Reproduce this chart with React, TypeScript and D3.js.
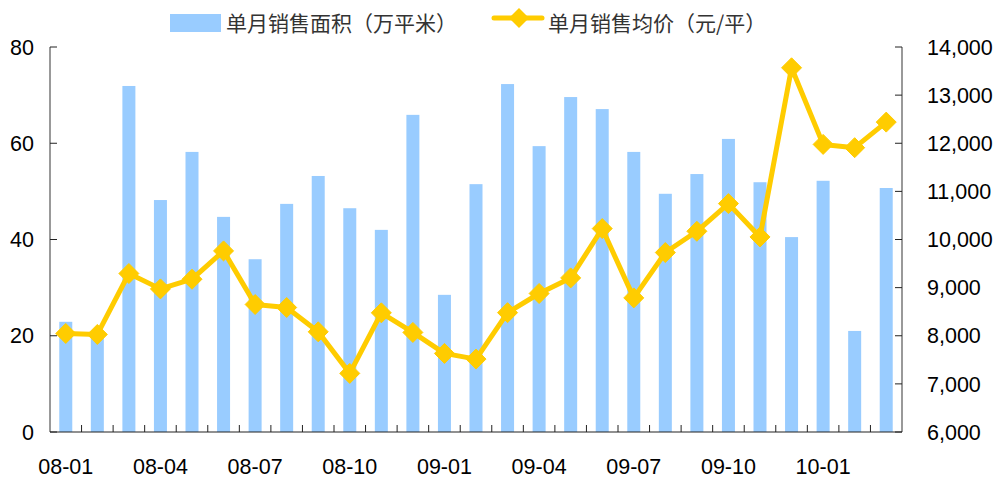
import React from "react";
import * as d3 from "d3";

const categories = [
  "08-01","08-02","08-03","08-04","08-05","08-06","08-07","08-08","08-09","08-10","08-11","08-12",
  "09-01","09-02","09-03","09-04","09-05","09-06","09-07","09-08","09-09","09-10","09-11","09-12",
  "10-01","10-02","10-03",
];
const areaValues = [
  22.9, 21.0, 71.9, 48.2, 58.2, 44.7, 35.9, 47.4, 53.2, 46.5, 42.0, 65.9,
  28.5, 51.5, 72.3, 59.4, 69.6, 67.1, 58.2, 49.5, 53.6, 60.9, 51.9, 40.5,
  52.2, 21.0, 50.7,
];
const priceValues = [
  8048, 8027, 9293, 8974, 9175, 9763, 8650, 8587, 8082, 7218, 8476, 8069,
  7633, 7515, 8480, 8878, 9202, 10227, 8787, 9729, 10171, 10746, 10053, 13568,
  11976, 11908, 12439,
];
const leftTicks = [0, 20, 40, 60, 80];
const rightTicks = [6000, 7000, 8000, 9000, 10000, 11000, 12000, 13000, 14000];
const xLabelIdx = [0, 3, 6, 9, 12, 15, 18, 21, 24];
const seriesNames = ["单月销售面积（万平米）", "单月销售均价（元/平）"];

const W = 1001, H = 480;
const L = 50, R = 902, T = 47, B = 432;
const BAR = "#99CCFF", LINE = "#FFCC00";
const NUM_FONT = "'Liberation Sans', Arial, sans-serif";
const CJK_FONT = "'Noto Sans CJK SC', sans-serif";

function diamond(cx: number, cy: number, r: number) {
  return `M${cx},${cy - r}L${cx + r},${cy}L${cx},${cy + r}L${cx - r},${cy}Z`;
}

export default function App() {
  const x = d3.scaleBand<string>().domain(categories).range([L, R]).paddingInner(0).paddingOuter(0);
  const yL = d3.scaleLinear().domain([0, 80]).range([B, T]);
  const yR = d3.scaleLinear().domain([6000, 14000]).range([B, T]);
  const bw = 13;
  const cx = (c: string) => (x(c) as number) + x.bandwidth() / 2;
  const line = d3.line<number>().x((_, i) => cx(categories[i])).y((v) => yR(v));

  return (
    <svg width={W} height={H} style={{ position: "absolute", left: 0, top: 0, background: "#fff" }}>
      {/* bars */}
      {areaValues.map((v, i) => (
        <rect key={i} x={cx(categories[i]) - bw / 2} y={yL(v)} width={bw} height={B - yL(v)} fill={BAR} />
      ))}
      {/* axes */}
      <line x1={L} x2={L} y1={T} y2={B} stroke="#777" strokeWidth={1.5} />
      <line x1={R} x2={R} y1={T} y2={B} stroke="#777" strokeWidth={1.5} />
      <line x1={L} x2={R} y1={B} y2={B} stroke="#222" strokeWidth={1.2} />
      {leftTicks.map((t) => (
        <g key={t}>
          <line x1={L} x2={L + 7} y1={yL(t)} y2={yL(t)} stroke="#222" />
          <text x={34} y={yL(t)} dy="0.36em" textAnchor="end" fontSize={21.5} fontFamily={NUM_FONT} fill="#000">{t}</text>
        </g>
      ))}
      {rightTicks.map((t) => (
        <g key={t}>
          <line x1={R - 7} x2={R} y1={yR(t)} y2={yR(t)} stroke="#222" />
          <text x={927} y={yR(t)} dy="0.36em" textAnchor="start" fontSize={21.5} fontFamily={NUM_FONT} fill="#000">{d3.format(",")(t)}</text>
        </g>
      ))}
      {categories.map((c, i) => i > 0 ? (
        <line key={c} x1={x(c) as number} x2={x(c) as number} y1={B - 7} y2={B} stroke="#222" />
      ) : null)}
      {xLabelIdx.map((i) => (
        <text key={i} x={cx(categories[i])} y={474} textAnchor="middle" fontSize={21.5} fontFamily={NUM_FONT} fill="#000">{categories[i]}</text>
      ))}
      {/* line */}
      <path d={line(priceValues) || ""} fill="none" stroke={LINE} strokeWidth={5} strokeLinejoin="round" />
      {priceValues.map((v, i) => (
        <path key={i} d={diamond(cx(categories[i]), yR(v), 10)} fill={LINE} stroke={LINE} strokeWidth={1} />
      ))}
      {/* legend */}
      <rect x={170} y={14} width={51} height={18} fill={BAR} />
      <text x={226} y={31} fontSize={21} fontFamily={CJK_FONT} fill="#333">{seriesNames[0]}</text>
      <line x1={494} x2={542} y1={18} y2={18} stroke={LINE} strokeWidth={5} strokeLinecap="round" />
      <path d={diamond(519, 18, 10)} fill={LINE} />
      <text x={548} y={31} fontSize={21} fontFamily={CJK_FONT} fill="#333">{seriesNames[1]}</text>
    </svg>
  );
}
